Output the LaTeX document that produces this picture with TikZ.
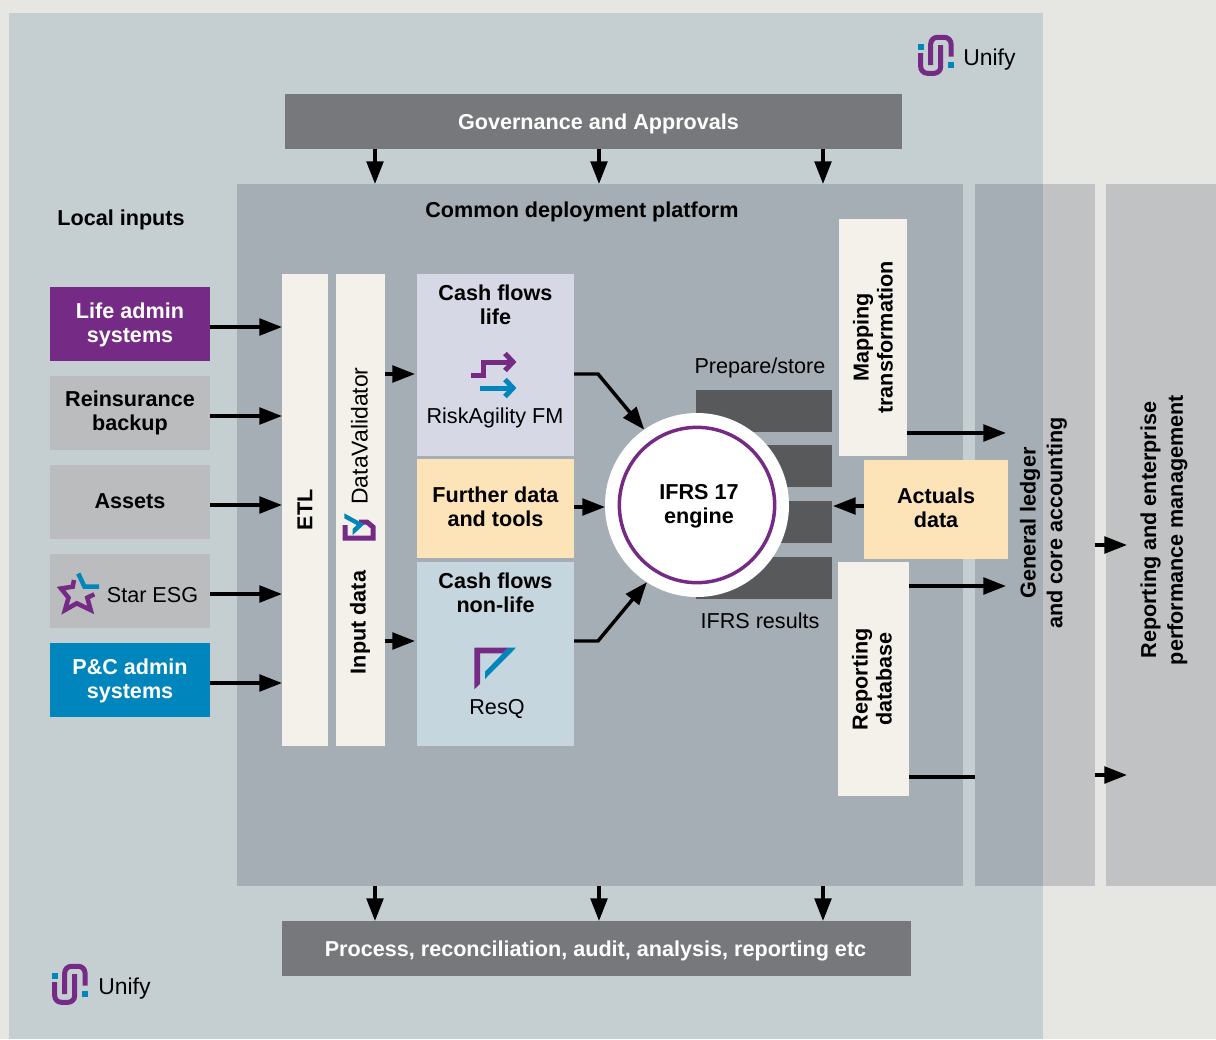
\documentclass[tikz,border=0pt]{standalone}
\usepackage{fontspec}
\setmainfont{Liberation Sans}
\usetikzlibrary{arrows.meta}
\definecolor{pagegrey}{HTML}{E6E6E3}
\definecolor{unifyblue}{HTML}{C5CFD2}
\definecolor{platgrey}{HTML}{A5AEB5}
\definecolor{sidegrey}{HTML}{C1C2C4}
\definecolor{srcgrey}{HTML}{BBBCBE}
\definecolor{slate}{HTML}{77787B}
\definecolor{darkbar}{HTML}{58595B}
\definecolor{cream}{HTML}{F4F1EA}
\definecolor{lilac}{HTML}{D6D8E5}
\definecolor{sand}{HTML}{FDE3B8}
\definecolor{pale}{HTML}{C6D6DE}
\definecolor{plum}{HTML}{752A85}
\definecolor{azure}{HTML}{0085BC}
\tikzset{
  box/.style={inner sep=0pt,outer sep=0pt},
  srcbox/.style={box,minimum width=120pt,minimum height=55.5pt,fill=srcgrey},
  barbox/.style={box,minimum width=102pt,minimum height=31.5pt,fill=darkbar},
  bold/.style={font=\bfseries\fontsize{16.2}{18}\selectfont,align=center,text=black,inner sep=0pt},
  plain/.style={font=\fontsize{16.2}{18}\selectfont,align=center,text=black,inner sep=0pt},
  arr/.style={line width=2.6pt,-{Triangle[length=17pt,width=12.5pt]}},
  logoline/.style={line width=3.75pt,miter limit=10}
}
\newcommand{\unifymark}[2]{%
  \begin{scope}[shift={(#1,#2)}]
    \draw[logoline,plum,rounded corners=5pt] (2.7,17) -- (2.7,37.3) -- (22.7,37.3) -- (22.7,9);
    \draw[logoline,plum,rounded corners=5pt] (12.7,29) -- (12.7,1.3) -- (33,1.3) -- (33,20.7);
    \fill[azure] (0.3,8) rectangle (6,14);
    \fill[azure] (30.3,25.7) rectangle (36,31.7);
  \end{scope}}
\begin{document}
\begin{tikzpicture}[x=0.75pt,y=0.75pt,yscale=-1,xscale=1]
\useasboundingbox (0,0) rectangle (1216,1039);
\fill[pagegrey] (0,0) rectangle (1216,1039);
% panels
\node[box,minimum width=775.5pt,minimum height=769.5pt,fill=unifyblue] (panel) at (526,526) {};
\node[box,minimum width=544.5pt,minimum height=526.5pt,fill=platgrey] (plat) at (600,535) {};
\node[box,minimum width=90pt,minimum height=526.5pt,fill=sidegrey] (ledger) at (1035,535) {};
\fill[platgrey] (ledger.north west) rectangle (ledger.south -| panel.east);
\node[box,minimum width=82.5pt,minimum height=526.5pt,fill=sidegrey] (report) at (1161,535) {};
\node[bold,rotate=90] (ledgertxt) at (1043.5,523) {General ledger\\[2pt]and core accounting};
\node[bold,rotate=90] (reporttxt) at (1164,530) {Reporting and enterprise\\[2pt]performance management};
% top and bottom bands
\node[box,minimum width=462.75pt,minimum height=41.25pt,fill=slate] (gov) at (593.5,121.5) {};
\node[bold,text=white] (govtxt) at (598.5,123.5) {Governance and Approvals};
\node[box,minimum width=471.75pt,minimum height=41.25pt,fill=slate] (proc) at (596.5,948.5) {};
\node[bold,text=white] (proctxt) at (595.5,951) {Process, reconciliation, audit, analysis, reporting etc};
\node[bold] (localtxt) at (121,220) {Local inputs};
\node[bold] (plattxt) at (582,212) {Common deployment platform};
% logos
\unifymark{918}{36}
\node[plain,anchor=west,font=\fontsize{17.2}{18}\selectfont] (unifya) at (963,60) {Unify};
\unifymark{52}{965}
\node[plain,anchor=west,font=\fontsize{17.2}{18}\selectfont] (unifyb) at (98,989) {Unify};
% local inputs
\node[srcbox,fill=plum] (life) at (130,324) {};
\node[bold,text=white] (lifetxt) at (130,325) {Life admin\\systems};
\node[srcbox] (reins) at (130,413) {};
\node[bold] (reinstxt) at (reins) {Reinsurance\\backup};
\node[srcbox] (assets) at (130,502) {};
\node[bold] (assetstxt) at (130,501) {Assets};
\node[srcbox] (star) at (130,591) {};
\node[plain] (startxt) at (152.5,595) {Star ESG};
\draw[logoline,plum,line width=3.4pt] (74,580) -- (72.7,586.7) -- (61,588.5) -- (68.5,597.7) -- (65,610) -- (76.7,603.3) -- (90.7,610) -- (87.3,597.7) -- (94.3,594.3);
\draw[logoline,azure,line width=3.4pt] (78.3,573.5) -- (84.5,586.7) -- (99,586.7);
\node[srcbox,fill=azure] (pc) at (130,680) {};
\node[bold,text=white] (pctxt) at (130,681) {P\&C admin\\systems};
% ETL and input columns
\node[box,minimum width=34.5pt,minimum height=354pt,fill=cream] (etl) at (305,510) {};
\node[bold,rotate=90] (etltxt) at (etl) {ETL};
\node[box,minimum width=36.75pt,minimum height=354pt,fill=cream] (input) at (360.5,510) {};
\node[bold,rotate=90] (inputtxt) at (360,622.5) {Input data};
\node[plain,rotate=90,font=\fontsize{17.2}{18}\selectfont] (dvtxt) at (359.5,436) {DataValidator};
\draw[logoline,plum] (345,525) -- (345,538) -- (373,538) -- (373,527) -- (367,522) -- (359,522);
\fill[azure] (344.3,513.3) -- (344.3,518.3) -- (356.7,525) -- (352.7,529) -- (352.7,535) -- (364.3,524.3) -- cycle;
% model boxes
\node[box,minimum width=117.75pt,minimum height=136.5pt,fill=lilac] (cflife) at (495.5,365) {};
\node[bold] (cflifetxt) at (495.5,305) {Cash flows\\life};
\draw[logoline,plum] (471,375) -- (483,375) -- (483,362) -- (510,362);
\draw[logoline,plum] (505,353.5) -- (513,362) -- (505,370.5);
\draw[logoline,azure] (480,388) -- (510,388);
\draw[logoline,azure] (505,379.5) -- (513,388) -- (505,396.5);
\node[plain] (risktxt) at (495,418) {RiskAgility FM};
\node[box,minimum width=117.75pt,minimum height=74.25pt,fill=sand] (further) at (495.5,508.5) {};
\node[bold] (furthertxt) at (495.5,506.5) {Further data\\and tools};
\node[box,minimum width=117.75pt,minimum height=138pt,fill=pale] (cfnon) at (495.5,654) {};
\node[bold] (cfnontxt) at (495.5,593) {Cash flows\\non-life};
\fill[plum] (474.3,647.7) -- (508.3,647.7) -- (502.7,653.3) -- (480,653.3) -- (480,684) -- (474.3,689.3) -- cycle;
\fill[azure] (508.3,647.7) -- (516,647.7) -- (485,679) -- (485,671.7) -- cycle;
\node[plain] (resqtxt) at (497,709) {ResQ};
% engine and stores
\node[barbox] (bara) at (764,411) {};
\node[barbox] (barb) at (764,466) {};
\node[barbox] (barc) at (764,522) {};
\node[barbox] (bard) at (764,578) {};
\node[plain] (preptxt) at (760,368) {Prepare/store};
\node[plain] (restxt) at (760,621) {IFRS results};
\node[box,circle,minimum size=138pt,fill=white] (engine) at (697,505) {};
\node[box,circle,draw=plum,line width=2.6pt,minimum size=116.5pt] (ring) at (engine) {};
\node[bold] (enginetxt) at (699,506) {IFRS 17\\engine};
% right hand boxes
\node[box,minimum width=51pt,minimum height=177.75pt,fill=cream] (mapping) at (873,337.5) {};
\node[bold,rotate=90] (mappingtxt) at (mapping) {Mapping\\transformation};
\node[box,minimum width=53.25pt,minimum height=175.5pt,fill=cream] (repdb) at (873.5,679) {};
\node[bold,rotate=90] (repdbtxt) at (872,679) {Reporting\\database};
\node[box,minimum width=108pt,minimum height=74.25pt,fill=sand] (actuals) at (936,509.5) {};
\node[bold] (actualstxt) at (936,508) {Actuals\\data};
% connectors
\foreach \x/\n in {375/a,599/b,823/c} {
  \coordinate (t\n) at (\x,0);
  \draw[arr] (gov.south -| t\n) -- (t\n |- plat.north);
  \draw[arr] (t\n |- plat.south) -- (t\n |- proc.north);
}
\foreach \n in {life,reins,assets,star,pc}
  \draw[arr] ([yshift=2.25pt]\n.east) -- ([yshift=2.25pt]\n.east -| etl.west);
\coordinate (lifein) at (400,374);
\coordinate (nonin) at (400,641);
\coordinate (furthout) at (590,507);
\coordinate (actin) at (850,506);
\coordinate (mapout) at (1006,433);
\coordinate (repout) at (1006,586);
\coordinate (repline) at (940,777);
\coordinate (leda) at (1127,545);
\coordinate (ledb) at (1127,775);
\draw[arr,shorten >=1.5pt] (lifein -| input.east) -- (lifein -| cflife.west);
\draw[arr,shorten >=1.5pt] (nonin -| input.east) -- (nonin -| cfnon.west);
\draw[arr] (lifein -| cflife.east) -- ++(24,0) -- (engine.125);
\draw[arr] (nonin -| cfnon.east) -- ++(24,0) -- (engine.237);
\draw[arr] (furthout -| further.east) -- (furthout -| engine.west);
\draw[arr,shorten >=0.75pt] (actin -| actuals.west) -- (actin -| barc.east);
\draw[arr] (mapout -| mapping.east) -- (mapout);
\draw[arr] (repout -| repdb.east) -- (repout);
\draw[line width=2.6pt] (repline -| repdb.east) -- (repline -| ledger.west);
\draw[arr] (leda -| ledger.east) -- (leda);
\draw[arr] (ledb -| ledger.east) -- (ledb);
\end{tikzpicture}
\end{document}
